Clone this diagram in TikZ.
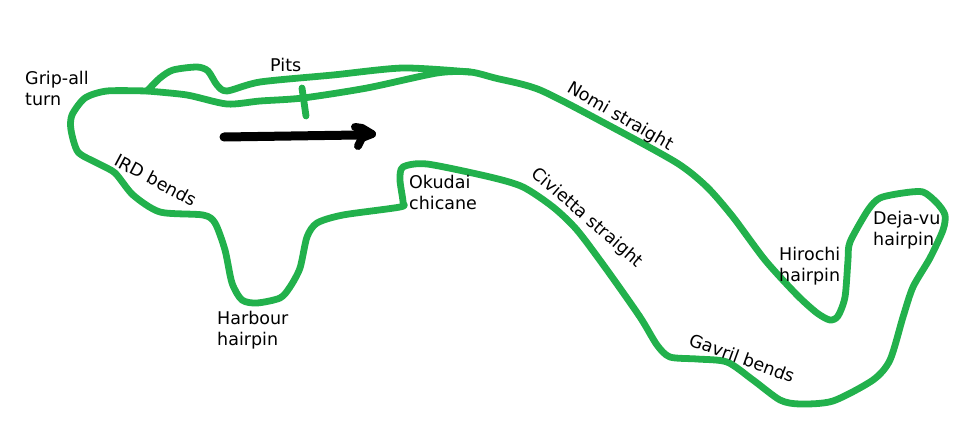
\documentclass[tikz,border=0pt]{standalone}
\usepackage{fontspec}
\setmainfont{DejaVu Sans}
\usepackage{xcolor}
\definecolor{trackgreen}{HTML}{22B14C}
\tikzset{
  track/.style={draw=trackgreen, line width=6.8pt, line cap=round, line join=round},
  flow/.style={draw=black, line width=8pt, line cap=round, line join=round},
  lab/.style={text=black, font=\fontsize{17.5}{21}\selectfont, inner sep=0pt, align=left},
}
\begin{document}
\begin{tikzpicture}[x=1pt,y=-1pt]
  \useasboundingbox (0,0) rectangle (979,436);
  % main circuit
  \draw[track] plot[smooth,tension=0.45] coordinates {
    (147,91) (107,91) (85,98) (72,115) (71,130) (78,152) (97,163) (115,173)
    (133,195) (160,212) (203,215) (215,223) (225,250) (232,283) (242,300)
    (257,303) (280,298) (290,287) (300,268) (307,237) (317,223) (343,215)
    (400,207) (403,202) (400,180) (403,167) (427,164) (490,177) (523,187)
    (553,207) (577,230) (607,270) (640,317) (657,345) (670,357) (697,359)
    (727,362) (753,380) (780,400) (800,404) (833,401) (873,380) (890,360)
    (903,317) (913,287) (930,258) (943,230) (945,215) (937,203) (923,192)
    (903,193) (880,198) (868,210) (850,242) (848,260) (845,297) (838,316)
    (830,320) (817,313) (797,295) (765,260) (733,217) (707,187)
    (677,163) (610,126) (540,90) (495,78) (470,72) (437,73) (367,88) (303,98)
    (260,101) (227,104) (187,95) (147,91)};
  % pit lane
  \draw[track] plot[smooth,tension=0.45] coordinates {
    (470,72) (403,68) (333,75) (260,82) (227,91) (217,85) (208,71) (197,67)
    (173,70) (160,78) (147,91)};
  \coordinate (pitA) at (302,88);
  \coordinate (pitB) at (306,116);
  \draw[track] (pitA) -- (pitB);
  % direction of travel
  \coordinate (flowA) at (224,137);
  \coordinate (flowB) at (372,134);
  \coordinate (flowC) at (355,127);
  \coordinate (flowD) at (358,146);
  \draw[flow,line width=9pt] (flowA) -- (358,135);
  \draw[flow] (358,135) -- (flowB);
  \draw[flow] (flowC) -- (362,128) -- (flowB) -- (362,138) -- (flowD);
  % labels
  \node[lab,anchor=north west] (grip) at (25,71) {Grip-all\\turn};
  \node[lab,anchor=north west] (pits) at (270,58) {Pits};
  \node[lab,rotate=-28] (ird) at (156,180) {IRD bends};
  \node[lab,anchor=north west] (okudai) at (409,175) {Okudai\\chicane};
  \node[lab,anchor=north west] (harbour) at (217,311) {Harbour\\hairpin};
  \node[lab,rotate=-30] (nomi) at (620,117) {Nomi straight};
  \node[lab,rotate=-41] (civietta) at (587,218) {Civietta straight};
  \node[lab,anchor=north west] (hirochi) at (779,247) {Hirochi\\hairpin};
  \node[lab,anchor=north west] (dejavu) at (873,211) {Deja-vu\\hairpin};
  \node[lab,rotate=-20] (gavril) at (742,358) {Gavril bends};
\end{tikzpicture}
\end{document}
